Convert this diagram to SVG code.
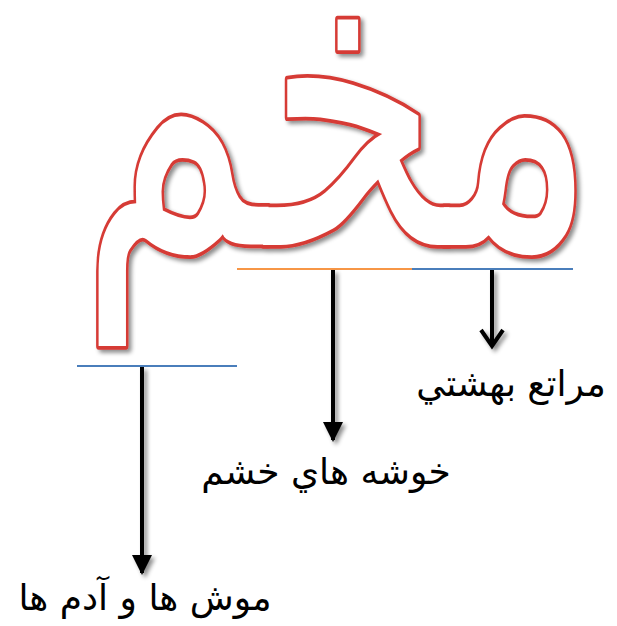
<svg xmlns="http://www.w3.org/2000/svg" width="617" height="626" viewBox="0 0 617 626">
<defs>
<filter id="sh" x="-20%" y="-20%" width="140%" height="140%">
<feGaussianBlur in="SourceAlpha" stdDeviation="2"/>
<feOffset dx="3" dy="3" result="b"/>
<feFlood flood-color="#000" flood-opacity="0.45"/>
<feComposite in2="b" operator="in"/>
<feMerge><feMergeNode/><feMergeNode in="SourceGraphic"/></feMerge>
</filter>
<marker id="tri" viewBox="0 0 10 10" refX="9" refY="5" markerWidth="5" markerHeight="5" orient="auto" markerUnits="strokeWidth">
<path d="M0,0 L10,5 L0,10 z" fill="#000"/>
</marker>
</defs>
<style>
.lbl{font-family:"DejaVu Sans","Liberation Sans",sans-serif;font-size:36px;fill:#000;text-anchor:middle}
.arr{stroke:#000;stroke-width:4;fill:none}
</style>
<rect width="617" height="626" fill="#fff"/>
<g id="title" filter="url(#sh)">
<text transform="translate(338,245) scale(1,1.5)" x="0" y="0" font-family="DejaVu Sans, sans-serif" font-size="280" fill="#fff" stroke="#d63a35" stroke-width="5" stroke-linejoin="round" paint-order="stroke" text-anchor="middle">مخم</text>
</g>
<g id="connectors">
<line x1="77" y1="366" x2="237" y2="366" stroke="#4a7ebb" stroke-width="2"/>
<line x1="237" y1="269" x2="412" y2="269" stroke="#f79646" stroke-width="2"/>
<line x1="412" y1="269" x2="573" y2="269" stroke="#4a7ebb" stroke-width="2"/>
<g filter="url(#sh)">
<line class="arr" x1="142" y1="367" x2="142" y2="573" marker-end="url(#tri)"/>
<line class="arr" x1="333" y1="270" x2="333" y2="440" marker-end="url(#tri)"/>
<line class="arr" x1="492" y1="270" x2="492" y2="346"/>
<polyline class="arr" points="481,330 492,346 503,330" stroke-linejoin="miter"/>
</g>
</g>
<g id="n1"><text class="lbl" x="511" y="396">مراتع بهشتي</text></g>
<g id="n2"><text class="lbl" x="326" y="484">خوشه هاي خشم</text></g>
<g id="n3"><text class="lbl" x="145" y="610">موش ها و آدم ها</text></g>
</svg>
